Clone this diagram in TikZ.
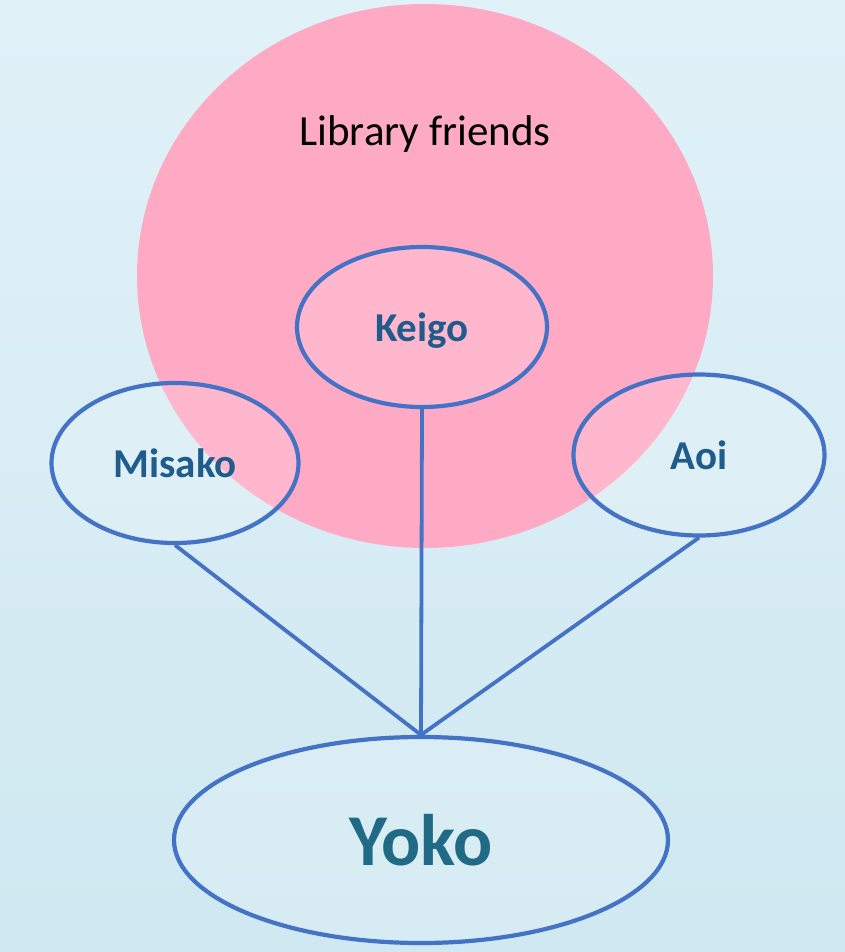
\documentclass[tikz,border=0pt]{standalone}
\usepackage{fontspec}
\setmainfont{Carlito}
\usetikzlibrary{shapes.geometric}
\definecolor{bgtop}{HTML}{E1F1F8}
\definecolor{bgbot}{HTML}{CFE8F1}
\definecolor{pinkc}{HTML}{FFAAC5}
\definecolor{edgeblue}{HTML}{4472C4}
\definecolor{txtblue}{HTML}{1F5C8C}
\definecolor{yokoblue}{HTML}{216A86}
\tikzset{
  person/.style={ellipse, draw=edgeblue, line width=4.2pt, fill=white, fill opacity=0.16, text opacity=1, inner sep=0pt, text depth=0pt, text=txtblue, font=\bfseries\fontsize{41}{44}\selectfont},
  link/.style={draw=edgeblue, line width=3.8pt}
}
\begin{document}
\begin{tikzpicture}[x=1pt,y=-1pt]
\shade[top color=bgtop, bottom color=bgbot] (0,0) rectangle (845,952);
\useasboundingbox (0,0) rectangle (845,952);
\node[ellipse, fill=pinkc, minimum width=576pt, minimum height=544pt, inner sep=0pt] (lib) at (425,276) {};
\node[font=\fontsize{43}{46}\selectfont, text=black] (libl) at (425,134) {Library friends};
\node[person, minimum width=250pt, minimum height=160pt] (keigo) at (422,327) {Keigo};
\node[person, minimum width=247pt, minimum height=160pt] (misako) at (175,463) {Misako};
\node[person, minimum width=251pt, minimum height=161pt] (aoi) at (699,455) {Aoi};
\node[person, minimum width=494pt, minimum height=206pt, text=yokoblue, font=\bfseries\fontsize{73}{80}\selectfont] (yoko) at (421,840) {Yoko};
\draw[link] (misako.south) -- (yoko.north);
\draw[link] (keigo.south) -- (yoko.north);
\draw[link] (aoi.south) -- (yoko.north);
\end{tikzpicture}
\end{document}
